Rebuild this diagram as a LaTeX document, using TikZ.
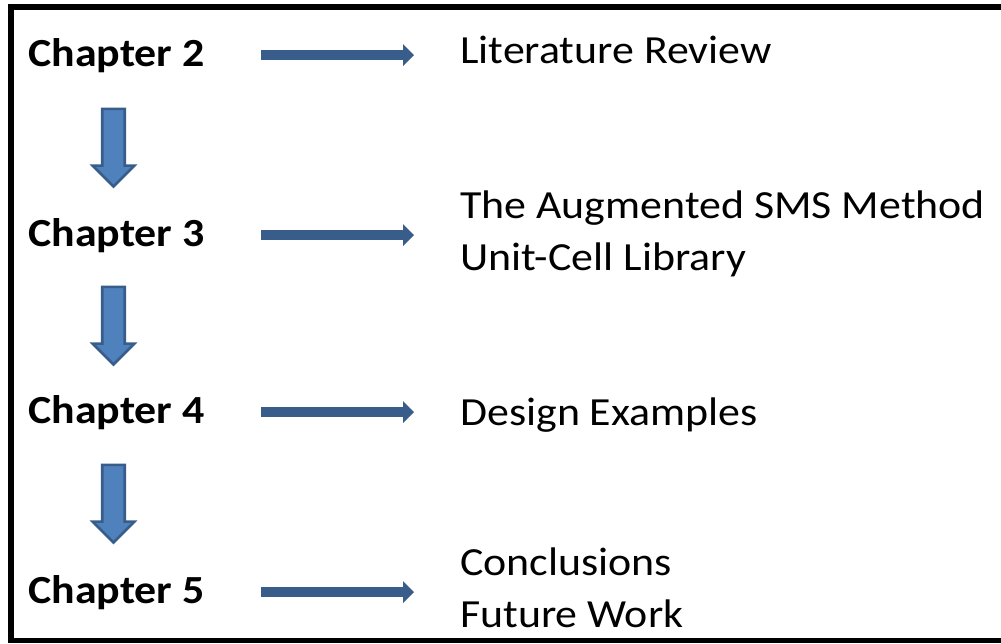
\documentclass[tikz,border=0pt]{standalone}
\usepackage{fontspec}
\setmainfont{Carlito}[FakeStretch=1.1]
\usetikzlibrary{arrows.meta,shapes.arrows}
\definecolor{arrowfill}{HTML}{4F81BD}
\definecolor{arrowline}{HTML}{385D8A}

\begin{document}
\begin{tikzpicture}[x=0.02cm, y=-0.02cm,
  every node/.style={inner sep=0pt, font=\fontsize{22.7}{29.5}\selectfont},
  chap/.style={anchor=base west, font=\fontsize{22.7}{29.5}\selectfont\bfseries},
  topic/.style={anchor=base west, align=left},
  down/.style={single arrow, draw=arrowline, fill=arrowfill, line width=1.5pt,
    rotate=-90, inner xsep=0pt, inner ysep=0.2cm, minimum height=1.55cm,
    single arrow head extend=0.19cm, single arrow head indent=0pt},
  goes/.style={draw=arrowline, line width=0.2cm,
    -{Triangle[length=0.22cm, width=0.44cm, line width=0pt]},
    shorten <=1.12cm, shorten >=0.92cm},
]
\useasboundingbox (0,0) rectangle (1001,643);
\draw[line width=3.4pt] (1001,7) -| (11,640.5) -- (1001,640.5);

\node[chap] (c2) at (28,66)  {Chapter 2};
\node[chap] (c3) at (28,246) {Chapter 3};
\node[chap] (c4) at (28,423) {Chapter 4};
\node[chap] (c5) at (28,603) {Chapter 5};

% base of a two-line node is its last line
\node[topic] (t2) at (460,63)  {Literature Review};
\node[topic] (t3) at (460,270) {The Augmented SMS Method\\Unit-Cell Library};
\node[topic] (t4) at (460,425) {Design Examples};
\node[topic] (t5) at (460,627) {Conclusions\\Future Work};

\node[down] (d23) at (113.5,142) {};
\node[down] (d34) at (113.5,320) {};
\node[down] (d45) at (113.5,498) {};

\draw[goes] (c2.east) -- (c2.east -| t2.west);
\draw[goes] (c3.east) -- (c3.east -| t3.west);
\draw[goes] (c4.east) -- (c4.east -| t4.west);
\draw[goes] (c5.east) -- (c5.east -| t5.west);
\end{tikzpicture}
\end{document}
